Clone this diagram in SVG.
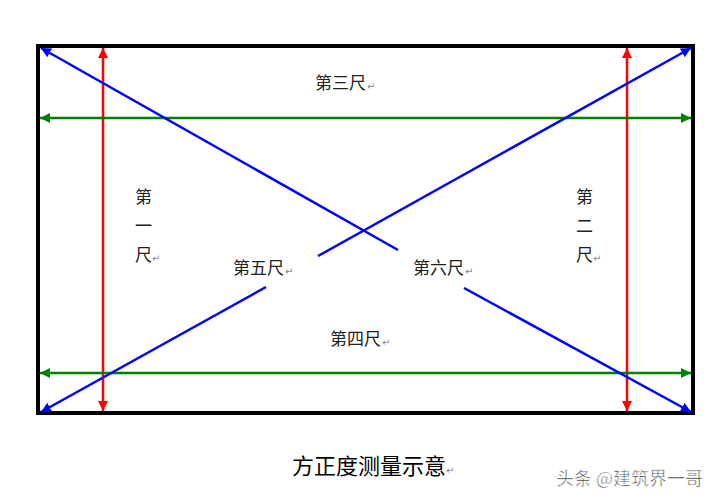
<svg xmlns="http://www.w3.org/2000/svg" width="721" height="501" viewBox="0 0 721 501">
<style>
.lbl{font-family:"Noto Sans CJK SC","Noto Sans CJK JP",sans-serif;font-size:17px;fill:#222}
.ret{font-family:"DejaVu Sans",sans-serif;font-size:10px;fill:#888}
.red{stroke:#ff0000;stroke-width:2.5;fill:none}
.grn{stroke:#008000;stroke-width:2.5;fill:none}
.blu{stroke:#0000ff;stroke-width:2.5;fill:none}
</style>
<defs>
<marker id="aR" viewBox="0 0 10 10" refX="10" refY="5" markerWidth="4" markerHeight="4" orient="auto-start-reverse"><path d="M0,0L10,5L0,10z" fill="#ff0000"/></marker>
<marker id="aG" viewBox="0 0 10 10" refX="10" refY="5" markerWidth="4" markerHeight="4" orient="auto-start-reverse"><path d="M0,0L10,5L0,10z" fill="#008000"/></marker>
<marker id="aB" viewBox="0 0 10 10" refX="10" refY="5" markerWidth="4" markerHeight="4" orient="auto-start-reverse"><path d="M0,0L10,5L0,10z" fill="#0000ff"/></marker>
</defs>
<rect width="721" height="501" fill="#fff"/>
<g id="frame"><rect x="38" y="46" width="655" height="367" fill="none" stroke="#000" stroke-width="4"/></g>
<g id="connectors">
<line class="red" x1="103" y1="48" x2="103" y2="411" marker-start="url(#aR)" marker-end="url(#aR)"/>
<line class="red" x1="627" y1="48" x2="627" y2="411" marker-start="url(#aR)" marker-end="url(#aR)"/>
<line class="grn" x1="40" y1="118" x2="691" y2="118" marker-start="url(#aG)" marker-end="url(#aG)"/>
<line class="grn" x1="40" y1="373" x2="691" y2="373" marker-start="url(#aG)" marker-end="url(#aG)"/>
<line class="blu" x1="398" y1="250" x2="41" y2="48" marker-end="url(#aB)"/>
<line class="blu" x1="464" y1="288" x2="691" y2="412" marker-end="url(#aB)"/>
<line class="blu" x1="318" y1="256" x2="691" y2="48" marker-end="url(#aB)"/>
<line class="blu" x1="266" y1="287" x2="41" y2="412" marker-end="url(#aB)"/>
</g>
<g id="n3"><text class="lbl" x="315" y="89">第三尺</text><text class="ret" x="367" y="90">↵</text></g>
<g id="n4"><text class="lbl" x="330" y="345">第四尺</text><text class="ret" x="382" y="346">↵</text></g>
<g id="n5"><text class="lbl" x="233" y="274">第五尺</text><text class="ret" x="285" y="275">↵</text></g>
<g id="n6"><text class="lbl" x="413" y="274">第六尺</text><text class="ret" x="465" y="275">↵</text></g>
<g id="n1"><text class="lbl" x="135" y="203">第</text><text class="lbl" x="135" y="232">一</text><text class="lbl" x="135" y="261">尺</text><text class="ret" x="152" y="262">↵</text></g>
<g id="n2"><text class="lbl" x="576" y="203">第</text><text class="lbl" x="576" y="232">二</text><text class="lbl" x="576" y="261">尺</text><text class="ret" x="593" y="262">↵</text></g>
<g id="title"><text x="292" y="474" style="font-family:'Noto Sans CJK SC',sans-serif;font-size:22px;fill:#000">方正度测量示意</text><text class="ret" x="446" y="474">↵</text></g>
<g id="watermark"><text x="556" y="485" style="font-family:'Noto Sans CJK SC',sans-serif;font-size:18px;fill:#333;stroke:#fff;stroke-width:0.6">头条 @建筑界一哥</text></g>
</svg>
